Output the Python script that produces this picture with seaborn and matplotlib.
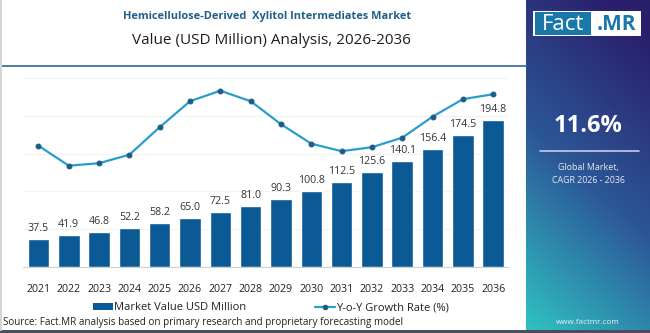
import numpy as np
import pandas as pd
import matplotlib
matplotlib.use("Agg")
import matplotlib.pyplot as plt
import seaborn as sns
from matplotlib.patches import Rectangle
from matplotlib.lines import Line2D

# ---------------- data ----------------
years = ["2021", "2022", "2023", "2024", "2025", "2026", "2027", "2028",
         "2029", "2030", "2031", "2032", "2033", "2034", "2035", "2036"]
market_value = [37.5, 41.9, 46.8, 52.2, 58.2, 65.0, 72.5, 81.0,
                90.3, 100.8, 112.5, 125.6, 140.1, 156.4, 174.5, 194.8]
yoy_growth = [11.40, 11.00, 11.05, 11.22, 11.77, 12.29, 12.50, 12.29,
              11.83, 11.44, 11.29, 11.37, 11.56, 11.98, 12.33, 12.43]
title_1 = "Hemicellulose-Derived  Xylitol Intermediates Market"
title_2 = "Value (USD Million) Analysis, 2026-2036"
cagr_text = "11.6%"
cagr_label = "Global Market,\nCAGR 2026 - 2036"
legend_labels = ["Market Value USD Million", "Y-o-Y Growth Rate (%)"]
source_text = "Source: Fact.MR analysis based on primary research and proprietary forecasting model"
site_text = "www.factmr.com"

W, H = 650, 333
sns.set_theme(style="white")
plt.rcParams["font.family"] = ["Open Sans", "DejaVu Sans"]

fig = plt.figure(figsize=(W / 100, H / 100), dpi=100)
fig.patch.set_facecolor("white")

def fx(px):
    return px / W

def fy(py):
    return 1 - py / H

BAR_C = "#0b5a96"
LINE_C = "#2a9dcb"
MARK_C = "#1d5c86"

# ---------------- main axes ----------------
ax = fig.add_axes([fx(23.3), fy(267), (508.3 - 23.3) / W, (267 - 78) / H])
df = pd.DataFrame({"year": years, "value": market_value})
sns.barplot(data=df, x="year", y="value", color=BAR_C, saturation=1,
            width=0.71, ax=ax, zorder=3)
ax.set_xlim(-0.5, len(years) - 0.5)
ax.set_ylim(0, 250)
ax.set_yticks([0, 50, 100, 150, 200, 250])
ax.yaxis.grid(True, color="#f2f2f2", linewidth=0.8, zorder=0)
ax.set_yticklabels([])
ax.tick_params(axis="y", length=0)
ax.set_xlabel("")
ax.set_ylabel("")
for s in ["top", "right", "left"]:
    ax.spines[s].set_visible(False)
ax.spines["bottom"].set_color("#d0d0d0")
ax.spines["bottom"].set_linewidth(0.8)
ax.tick_params(axis="x", which="major", length=0, pad=12, labelsize=7.7,
               labelcolor="#222222")
ax.set_xticks(np.arange(-0.5, len(years), 1.0), minor=True)
ax.tick_params(axis="x", which="minor", length=3, color="#d8d8d8", width=0.8)
for c in ax.containers:
    ax.bar_label(c, labels=[f"{v:.1f}" for v in market_value], padding=3.5,
                 fontsize=7.7, color="#333333")

ax2 = ax.twinx()
sns.lineplot(x=np.arange(len(years)), y=yoy_growth, ax=ax2, color=LINE_C,
             linewidth=1.6, marker="o", markersize=3.5,
             markerfacecolor=MARK_C, markeredgecolor=MARK_C, zorder=4)
ax2.set_ylim(8.974, 12.754)
ax2.set_axis_off()

# ---------------- titles ----------------
fig.text(fx(267.5), fy(16), title_1, ha="center", va="center", fontsize=7.9,
         fontweight="bold", color="#1f5f8c")
fig.text(fx(271.5), fy(40), title_2, ha="center", va="center", fontsize=11.0,
         color="#1e1e1e")

# top separator line
fig.add_artist(Line2D([0, fx(526)], [fy(65.5), fy(65.5)], color="#3b7596",
                      linewidth=1.3, transform=fig.transFigure))
# left frame line
fig.add_artist(Line2D([fx(1), fx(1)], [fy(0), fy(330)], color="#d5d5d5",
                      linewidth=1.5, transform=fig.transFigure))

# ---------------- legend ----------------
handles = [Rectangle((0, 0), 1, 1, facecolor=BAR_C, edgecolor="none"),
           Line2D([0], [0], color=LINE_C, linewidth=1.6, marker="o",
                  markersize=3, markerfacecolor=MARK_C, markeredgecolor=MARK_C)]
fig.legend(handles, legend_labels, loc="center", bbox_to_anchor=(fx(271), fy(308)),
           ncol=2, frameon=False, fontsize=8.0, handlelength=1.75,
           handleheight=0.6, handletextpad=0.1, columnspacing=6.2,
           labelcolor="#222222")

fig.text(fx(3), fy(322), source_text, ha="left", va="center", fontsize=7.1,
         color="#222222")

# bottom dark band
fig.add_artist(Rectangle((0, 0), 1, 3 / H, transform=fig.transFigure,
                         facecolor="#4a4d5a", edgecolor="none"))

# ---------------- right panel ----------------
pax = fig.add_axes([fx(526), 3 / H, (W - 526) / W, (H - 3) / H])
ny, nx = 200, 80
yy, xx = np.mgrid[0:1:ny * 1j, 0:1:nx * 1j]
t = np.clip(0.82 * yy + 0.28 * (1 - xx) - 0.1, 0, 1)  # 0 top-right, 1 bottom-left
c_top = np.array([0x2a, 0x1f, 0x6c]) / 255
c_mid = np.array([0x2c, 0x58, 0x98]) / 255
c_bot = np.array([0x30, 0xc2, 0xc2]) / 255
tt = t[..., None]
img = np.where(tt < 0.5, c_top + (c_mid - c_top) * (tt / 0.5),
               c_mid + (c_bot - c_mid) * ((tt - 0.5) / 0.5))
pax.imshow(img, aspect="auto", extent=[0, 1, 1, 0], interpolation="bilinear")
pax.set_xlim(0, 1)
pax.set_ylim(1, 0)
pax.set_axis_off()

# logo
fig.add_artist(Rectangle((fx(533), fy(36)), fx(641) - fx(533), fy(11) - fy(36),
                         transform=fig.transFigure, facecolor="white",
                         edgecolor="none"))
fig.add_artist(Rectangle((fx(535), fy(34.5)), fx(591) - fx(535), fy(12.5) - fy(34.5),
                         transform=fig.transFigure, facecolor="#1a78a8",
                         edgecolor="none"))
fig.text(fx(563), fy(24), "Fact", ha="center", va="center", fontsize=16,
         color="white")
fig.text(fx(616), fy(24), ".MR", ha="center", va="center", fontsize=15,
         color="#1a78a8", fontweight="bold")

fig.text(fx(588), fy(126), cagr_text, ha="center", va="center", fontsize=17,
         fontweight="bold", color="white")
fig.add_artist(Line2D([fx(540), fx(639)], [fy(151), fy(151)], color="#c8cce0",
                      linewidth=1.2, transform=fig.transFigure))
fig.text(fx(588), fy(174), cagr_label, ha="center", va="center", fontsize=6.4,
         color="#e6e8f0", linespacing=1.5)
fig.text(fx(588), fy(322), site_text, ha="center", va="center", fontsize=5.8,
         color="#e8f4f8")

fig.savefig("out.png", dpi=100)
